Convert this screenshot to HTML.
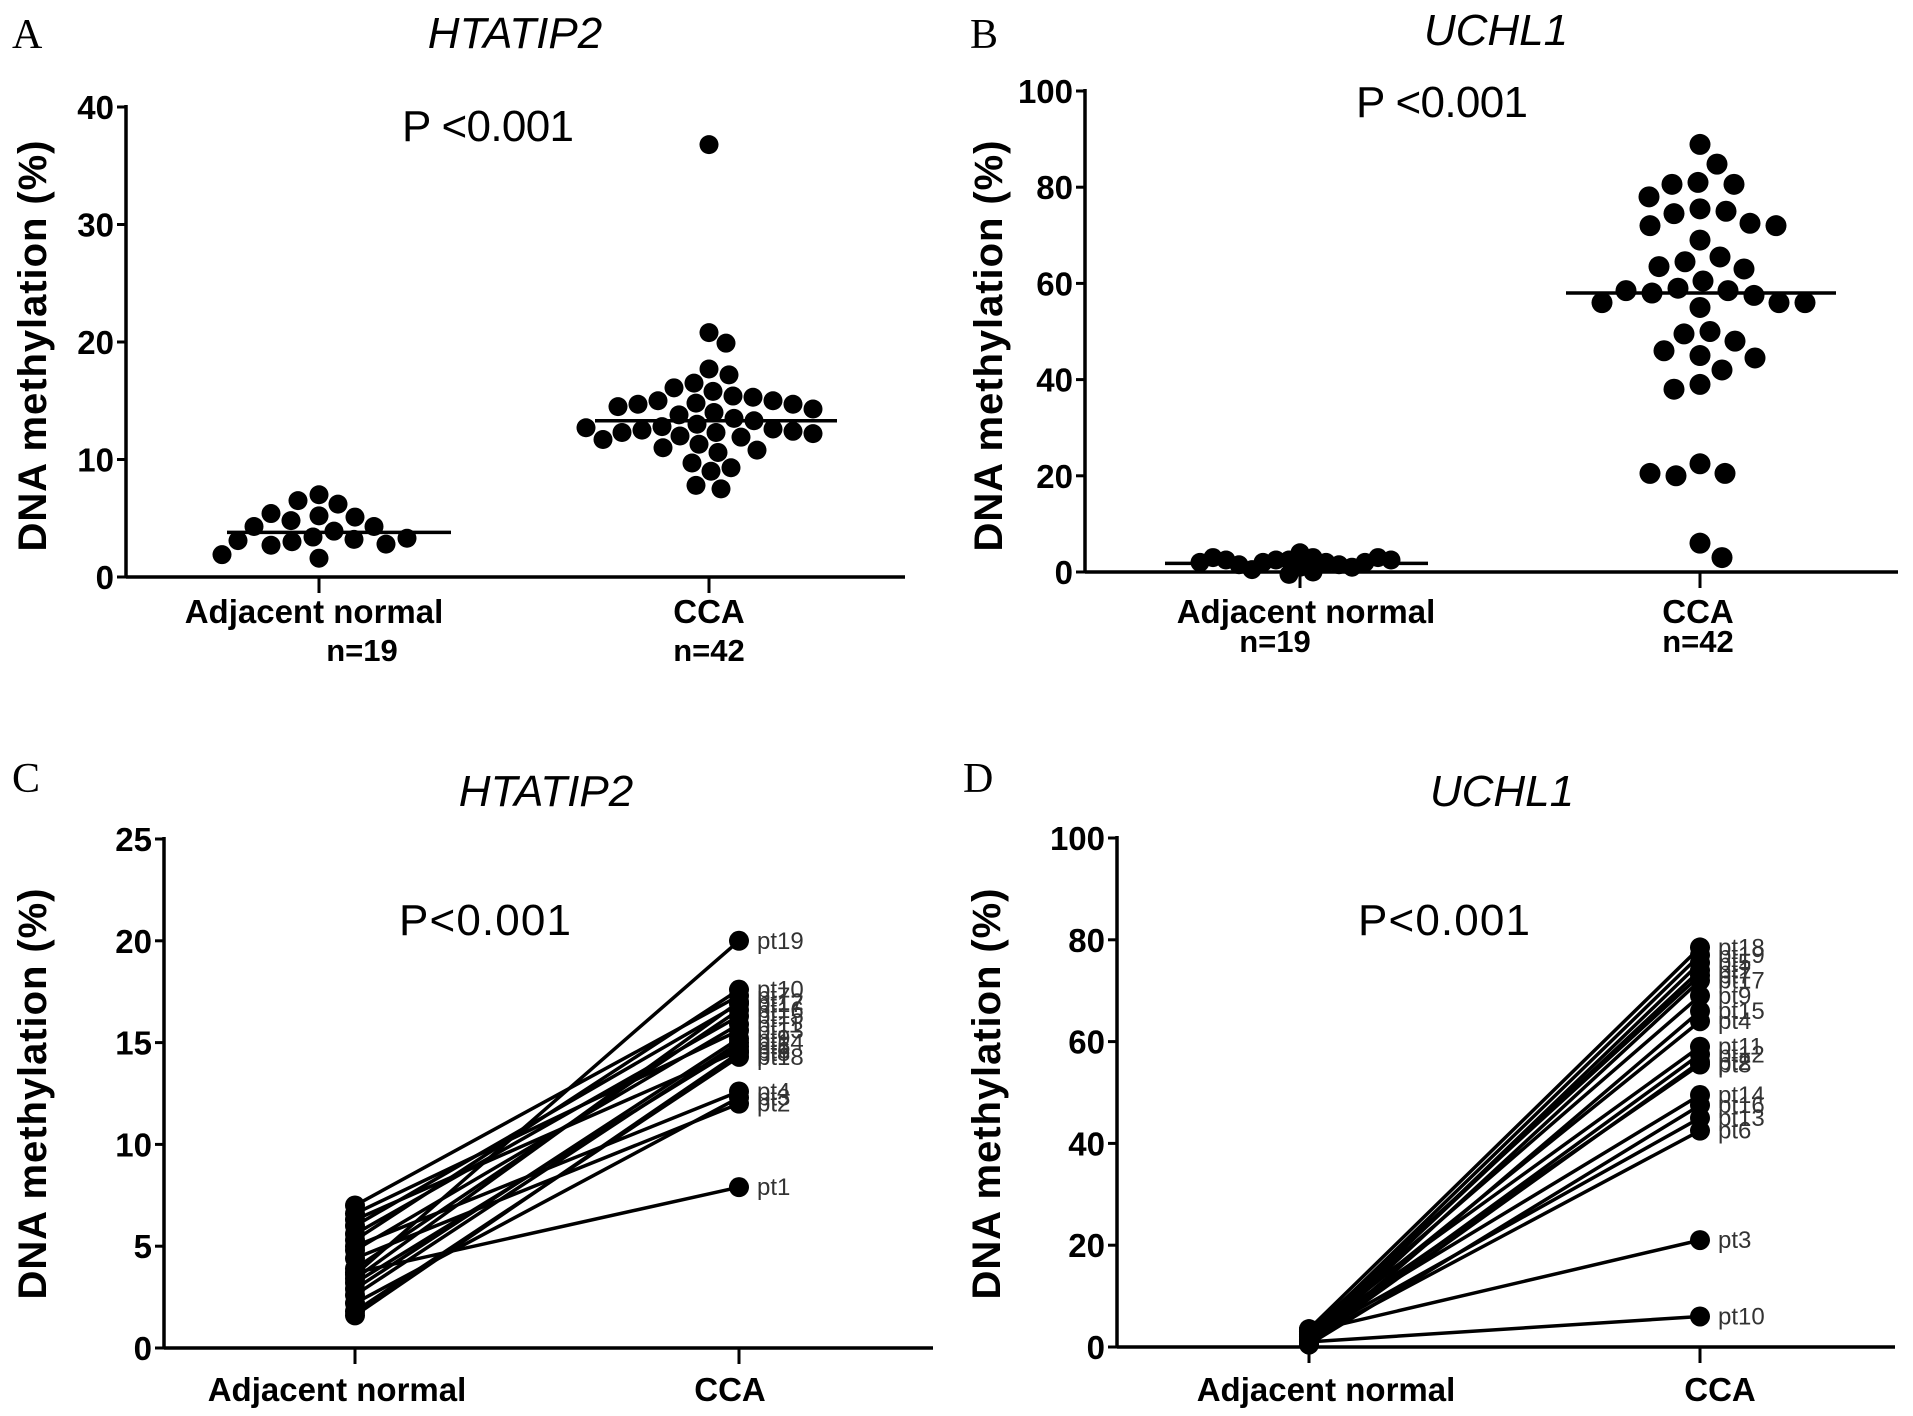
<!DOCTYPE html>
<html><head><meta charset="utf-8"><style>
html,body{margin:0;padding:0;background:#fff;}
svg{display:block;}
text{font-family:"Liberation Sans",sans-serif;}
text.serif{font-family:"Liberation Serif",serif;}
</style></head><body>
<svg id="fig" width="1913" height="1416" viewBox="0 0 1913 1416" xmlns="http://www.w3.org/2000/svg"></svg>
<script>
// ---- data ----
const categories = ["Adjacent normal", "CCA"];
const nLabels = ["n=19", "n=42"];
const aNormal = [7.0,6.2,6.5,5.2,4.8,5.1,5.4,4.3,4.3,3.9,3.4,3.2,3.0,2.7,2.8,3.1,3.3,1.6,1.9];
const aCCA = [36.8,20.8,19.9,17.7,17.2,16.5,16.1,15.8,15.4,15.3,15.0,15.0,14.8,14.7,14.7,14.5,14.3,14.0,13.8,13.5,13.3,13.0,12.8,12.6,12.5,12.4,12.3,12.3,12.2,12.0,11.9,11.7,11.3,11.0,10.8,10.6,9.7,9.3,9.0,7.8,7.5,12.7];
const aMedians = [3.8, 13.3];
const aTicks = [0,10,20,30,40];
const bNormal = [4.0,3.0,2.5,2.5,2.0,2.0,1.5,1.0,0.5,0.0,-0.5,1.0,1.5,2.0,2.5,3.0,3.0,2.5,2.0];
const bCCA = [88.9,84.8,81,80.6,80.6,78,75.5,75,74.5,72.5,72,72,69,65.5,64.5,63.5,63,60.5,59,58.5,58,57.5,58.5,56,56,55,56,50,49.5,48,46,45,44.5,42,39,38,22.5,20.5,20,20.5,6,3];
const bMedians = [1.8, 58];
const bTicks = [0,20,40,60,80,100];
const cPatients = ["pt1","pt2","pt3","pt4","pt5","pt6","pt7","pt8","pt9","pt10","pt11","pt12","pt13","pt14","pt15","pt16","pt17","pt18","pt19"];
const cNormal = [3.7,4.4,2.2,5.0,3.2,6.3,7.0,1.6,2.9,5.3,4.8,3.4,6.6,2.6,5.6,3.9,6.0,1.8,3.6];
const cCCA = [7.9,12.0,12.3,12.6,14.8,14.6,17.3,14.5,15.2,17.6,15.9,17.0,15.6,15.0,16.3,16.6,16.9,14.3,20.0];
const cTicks = [0,5,10,15,20,25];
const dPatients = ["pt18","pt19","pt5","pt1","pt7","pt17","pt9","pt15","pt4","pt11","pt12","pt2","pt8","pt14","pt16","pt13","pt6","pt3","pt10"];
const dNormal = [3.5,2.5,1.5,2.0,3.0,1.0,2.5,0.5,2.0,3.5,1.5,1.0,2.5,3.0,0.5,2.0,1.5,3.0,1.0];
const dCCA = [78.5,77,75.5,74,73,72,69,66,64,59,57.5,56,55.5,49.5,47.5,45,42.5,21,6];
const dTicks = [0,20,40,60,80,100];

const NS="http://www.w3.org/2000/svg";
const svg=document.getElementById('fig');
function el(tag,attrs,parent,txt){const e=document.createElementNS(NS,tag);for(const k in attrs)e.setAttribute(k,attrs[k]);if(txt!==undefined)e.textContent=txt;(parent||svg).appendChild(e);return e;}

function frame(p){
  const g=el('g',{});
  
  
  const y=v=>p.y0-(v-p.tmin)/(p.tmax-p.tmin)*(p.y0-p.y1);
  const lt=el('text',{x:p.lx,y:p.ly,'font-size':42,'class':'serif'},g,p.letter);
  
  const tt=el('text',{x:p.tx,y:p.ty,'text-anchor':'middle','font-size':44,'font-style':'italic'},g,p.title);
  
  const pv=el('text',{x:p.px,y:p.py,'text-anchor':'middle','font-size':44,textLength:172},g,p.ptext);
  
  const ya=el('line',{x1:p.ax,y1:p.y1-2,x2:p.ax,y2:p.y0,stroke:'#000','stroke-width':3.5},g);
  
  const xa=el('line',{x1:p.ax,y1:p.y0,x2:p.xend,y2:p.y0,stroke:'#000','stroke-width':3.5},g);
  
  p.ticks.forEach(t=>{
    el('line',{x1:p.ax-9,y1:y(t),x2:p.ax,y2:y(t),stroke:'#000','stroke-width':3},g);
    const tl=el('text',{x:p.ax-12,y:y(t)+12,'text-anchor':'end','font-size':33,'font-weight':'bold'},g,String(t));
    
  });
  p.cats.forEach((cx,i)=>{
    el('line',{x1:cx,y1:p.y0,x2:cx,y2:p.y0+16,stroke:'#000','stroke-width':3},g);
    const cl=el('text',{x:p.catLabelX[i],y:p.catY,'text-anchor':'middle','font-size':33,'font-weight':'bold'},g,categories[i]);
    
    if(p.nY){const nl=el('text',{x:p.nX[i],y:p.nY,'text-anchor':'middle','font-size':31,'font-weight':'bold'},g,nLabels[i]);
      }
  });
  const yl=el('text',{x:0,y:0,'text-anchor':'middle','font-size':40,'font-weight':'bold',textLength:411,transform:`translate(${p.ylx},${p.yly}) rotate(-90)`},g,'DNA methylation (%)');
  
  return {g,y};
}

function swarm(vals,y,cx,minD,g,r,name){
  const placed=[];
  vals.forEach(v=>{
    const py=y(v);let best=0;
    for(let d=0;d<400;d++){
      let ok=false;
      for(const s of [d,-d]){
        const px=cx+s;
        if(placed.every(q=>Math.hypot(q[0]-px,q[1]-py)>=minD)){best=px;ok=true;break;}
      }
      if(ok)break;
    }
    placed.push([best,py]);
    const c=el('circle',{cx:best,cy:py,r:r,fill:'#000'},g);
    
    
  });
}

// Panel A
(function(){
  const p={id:'a',letter:'A',lx:12,ly:48,title:'HTATIP2',tx:515,ty:48,ptext:'P <0.001',px:488,py:141,
    ax:126,y0:577,y1:107,tmin:0,tmax:40,xend:905,ticks:aTicks,cats:[319,709],catLabelX:[314,709],catY:623,nX:[362,709],nY:661,ylx:46,yly:346};
  const f=frame(p);
  swarm(aNormal,f.y,p.cats[0],21,f.g,9.5,'normal-dot');
  swarm(aCCA,f.y,p.cats[1],20,f.g,9.5,'cca-dot');
  [[227,451],[595,837]].forEach((s,i)=>{const m=el('line',{x1:s[0],x2:s[1],y1:f.y(aMedians[i]),y2:f.y(aMedians[i]),stroke:'#000','stroke-width':3.5},f.g);
    });
})();
// Panel B
(function(){
  const p={id:'b',letter:'B',lx:970,ly:48,title:'UCHL1',tx:1496,ty:45,ptext:'P <0.001',px:1442,py:117,
    ax:1085,y0:572,y1:91,tmin:0,tmax:100,xend:1898,ticks:bTicks,cats:[1300,1700],catLabelX:[1306,1698],catY:623,nX:[1275,1698],nY:652,ylx:1002,yly:346};
  const f=frame(p);
  swarm(bNormal,f.y,p.cats[0],13,f.g,9.5,'normal-dot');
  swarm(bCCA,f.y,p.cats[1],26,f.g,10.5,'cca-dot');
  [[1165,1428],[1566,1836]].forEach((s,i)=>{const m=el('line',{x1:s[0],x2:s[1],y1:f.y(bMedians[i]),y2:f.y(bMedians[i]),stroke:'#000','stroke-width':3.5},f.g);
    });
})();
function paired(p,pts,nv,cv){
  const f=frame(p);
  nv.forEach((v,i)=>{
    const l=el('line',{x1:p.cats[0],y1:f.y(v),x2:p.cats[1],y2:f.y(cv[i]),stroke:'#000','stroke-width':3.5},f.g);
    
  });
  nv.forEach((v,i)=>{
    const a=el('circle',{cx:p.cats[0],cy:f.y(v),r:10,fill:'#000'},f.g);
    
    const b=el('circle',{cx:p.cats[1],cy:f.y(cv[i]),r:10,fill:'#000'},f.g);
    
    const t=el('text',{x:p.cats[1]+18,y:f.y(cv[i])+8,'font-size':24,fill:'#333'},f.g,pts[i]);
    
  });
}
paired({id:'c',letter:'C',lx:12,ly:792,title:'HTATIP2',tx:546,ty:806,ptext:'P<0.001',px:485,py:935,
  ax:164,y0:1348,y1:839,tmin:0,tmax:25,xend:933,ticks:cTicks,cats:[355,739],catLabelX:[337,730],catY:1401,ylx:46,yly:1094},cPatients,cNormal,cCCA);
paired({id:'d',letter:'D',lx:963,ly:792,title:'UCHL1',tx:1502,ty:806,ptext:'P<0.001',px:1444,py:935,
  ax:1117,y0:1347,y1:838,tmin:0,tmax:100,xend:1895,ticks:dTicks,cats:[1309,1700],catLabelX:[1326,1720],catY:1401,ylx:1000,yly:1094},dPatients,dNormal,dCCA);
</script>
</body></html>
